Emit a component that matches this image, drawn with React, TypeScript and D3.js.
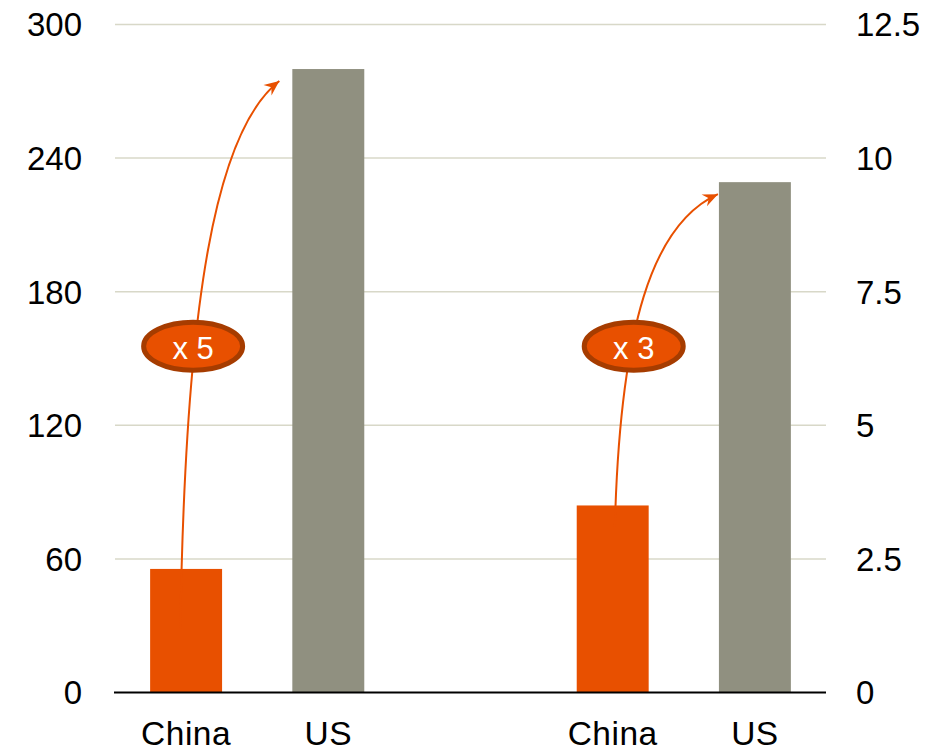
import React from "react";
import * as d3 from "d3";

// Bar categories within each pair
const categories = ["China", "US"];
// Left pair is read on the left axis, right pair on the right axis
const leftValues = [55.5, 280];
const rightValues = [3.5, 9.55];
const leftTicks = [0, 60, 120, 180, 240, 300];
const rightTicks = [0, 2.5, 5, 7.5, 10, 12.5];
const multipliers = ["x 5", "x 3"];

const W = 944;
const H = 750;
const FONT = "'Liberation Sans', Arial, Helvetica, sans-serif";
const ORANGE = "#E85000";
const GREY = "#909080";
const RING = "#A63C00";
const GRID = "#D8D8C8";

const plotLeft = 115;
const plotRight = 826;
const plotTop = 24.5;
const plotBottom = 692.5;

// Five equal slots: pair one, an empty separator, pair two
const slots = ["L-China", "L-US", "sep", "R-China", "R-US"];

export default function App() {
  const x = d3
    .scaleBand<string>()
    .domain(slots)
    .range([plotLeft, plotRight])
    .paddingInner(0.494)
    .paddingOuter(0.247);
  const yL = d3.scaleLinear().domain([0, 300]).range([plotBottom, plotTop]);
  const yR = d3.scaleLinear().domain([0, 12.5]).range([plotBottom, plotTop]);
  const bw = x.bandwidth();

  const bars = [
    ...categories.map((c, i) => ({ key: "L-" + c, label: c, top: yL(leftValues[i]), color: i === 0 ? ORANGE : GREY })),
    ...categories.map((c, i) => ({ key: "R-" + c, label: c, top: yR(rightValues[i]), color: i === 0 ? ORANGE : GREY })),
  ];

  // Growth arrows: from inside the China bar up to the US bar top
  const arrows = [
    {
      x0: (x("L-China") as number) + bw * 0.42,
      y0: yL(28.5),
      x1: (x("L-US") as number) - 13,
      y1: yL(leftValues[1]) + 12,
      badgeX: (x("L-China") as number) + 43,
      badgeY: yL(155.5),
      label: multipliers[0],
    },
    {
      x0: (x("R-China") as number) + bw * 0.53,
      y0: yR(3.1),
      x1: (x("R-US") as number) - 1,
      y1: yR(rightValues[1]) + 12,
      badgeX: (x("R-China") as number) + 57,
      badgeY: yL(155.5),
      label: multipliers[1],
    },
  ];

  const arrowPath = (a: typeof arrows[number]) => {
    const p = d3.path();
    const dx = a.x1 - a.x0;
    const dy = a.y0 - a.y1;
    p.moveTo(a.x0, a.y0);
    p.bezierCurveTo(
      a.x0 + dx * 0.05,
      a.y0 - dy * 0.6,
      a.x0 + dx * 0.36,
      a.y1 + dy * 0.09,
      a.x1,
      a.y1
    );
    return p.toString();
  };

  return (
    <div style={{ position: "absolute", left: 0, top: 0 }}>
      <svg width={W} height={H} style={{ display: "block", background: "#fff" }}>
        <defs>
          <marker
            id="head"
            viewBox="-16 -8 18 16"
            markerWidth={18}
            markerHeight={16}
            refX={0}
            refY={0}
            orient="auto"
            markerUnits="userSpaceOnUse"
          >
            <path d="M0,0 L-15,-6.5 L-10,0 L-15,6.5 Z" fill={ORANGE} />
          </marker>
        </defs>

        {leftTicks.slice(1).map((t) => (
          <line key={"g" + t} x1={plotLeft} x2={plotRight} y1={yL(t)} y2={yL(t)} stroke={GRID} strokeWidth={1.5} />
        ))}

        {bars.map((b) => (
          <rect key={b.key} x={x(b.key)} y={b.top} width={bw} height={plotBottom - b.top} fill={b.color} />
        ))}

        <line x1={plotLeft - 1} x2={plotRight} y1={plotBottom} y2={plotBottom} stroke="#000" strokeWidth={2} />

        {leftTicks.map((t) => (
          <text key={"l" + t} x={82} y={yL(t)} dy="0.36em" textAnchor="end" fontFamily={FONT} fontSize={33} fill="#000">
            {t}
          </text>
        ))}
        {rightTicks.map((t) => (
          <text key={"r" + t} x={856} y={yR(t)} dy="0.36em" textAnchor="start" fontFamily={FONT} fontSize={33} fill="#000">
            {t}
          </text>
        ))}

        {bars.map((b) => (
          <text
            key={"c" + b.key}
            x={(x(b.key) as number) + bw / 2}
            y={745}
            textAnchor="middle"
            fontFamily={FONT}
            fontSize={33.5}
            letterSpacing={0.5}
            fill="#000"
          >
            {b.label}
          </text>
        ))}

        {arrows.map((a, i) => (
          <g key={"a" + i}>
            <path d={arrowPath(a)} fill="none" stroke={ORANGE} strokeWidth={2} markerEnd="url(#head)" />
            <ellipse cx={a.badgeX} cy={a.badgeY} rx={49.5} ry={24} fill={ORANGE} stroke={RING} strokeWidth={5} />
            <text
              x={a.badgeX}
              y={a.badgeY}
              dy="0.4em"
              textAnchor="middle"
              fontFamily={FONT}
              fontSize={31}
              fill="#fff"
            >
              {a.label}
            </text>
          </g>
        ))}
      </svg>
    </div>
  );
}
